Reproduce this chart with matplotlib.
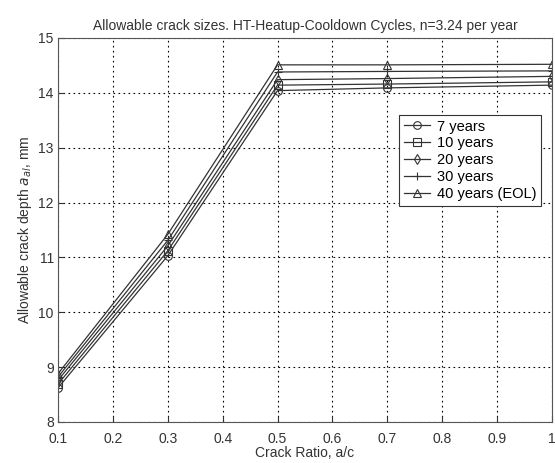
import numpy as np
import matplotlib.pyplot as plt

plt.rcParams['font.family'] = ['Liberation Sans', 'DejaVu Sans']

ratio = [0.1, 0.3, 0.5, 0.7, 1.0]
labels = ['7 years', '10 years', '20 years', '30 years', '40 years (EOL)']
depth = [
    [8.62, 11.03, 14.04, 14.09, 14.14],
    [8.69, 11.12, 14.14, 14.16, 14.20],
    [8.76, 11.21, 14.24, 14.26, 14.30],
    [8.82, 11.31, 14.38, 14.39, 14.40],
    [8.88, 11.42, 14.51, 14.51, 14.52],
]
markers = ['o', 's', 'd', '+', '^']


def main():
    fig = plt.figure(figsize=(5.55, 4.63), dpi=100)
    ax = fig.add_axes([0.1045, 0.0886, 0.89, 0.8294])

    for lab, y, m in zip(labels, depth, markers):
        ax.plot(ratio, y, '-', marker=m, color='#333333', lw=0.9,
                markersize=5.5, markerfacecolor='none', markeredgewidth=0.8,
                label=lab)

    ax.set_xlim(0.1, 1.0)
    ax.set_ylim(8, 15)
    ax.set_xticks(np.arange(0.1, 1.01, 0.1))
    ax.set_xticklabels(['0.1', '0.2', '0.3', '0.4', '0.5', '0.6', '0.7', '0.8', '0.9', '1'])
    ax.set_yticks(range(8, 16))
    ax.grid(True, color='black', linestyle=(0, (1.5, 3)), linewidth=0.8)
    ax.tick_params(direction='in', labelsize=10, colors='#333333', length=4)
    ax.tick_params(axis='x', pad=7)
    ax.tick_params(axis='y', pad=3)
    for s in ax.spines.values():
        s.set_color('#555555')

    ax.set_title('Allowable crack sizes. HT-Heatup-Cooldown Cycles, n=3.24 per year',
                 fontsize=10, color='#333333', pad=6)
    ax.set_xlabel('Crack Ratio, a/c', fontsize=10, color='#333333', labelpad=0)
    ax.set_ylabel('Allowable crack depth $a_{al}$, mm', fontsize=10, color='#333333',
                  labelpad=3)

    leg = ax.legend(loc='upper left', bbox_to_anchor=(0.676, 0.818), fontsize=10.5,
                    fancybox=False, framealpha=1, edgecolor='#333333',
                    borderpad=0.3, labelspacing=0.2, handlelength=1.8,
                    handletextpad=0.5)
    leg.get_frame().set_linewidth(0.8)

    fig.savefig('out.png', dpi=100)


if __name__ == '__main__':
    main()
